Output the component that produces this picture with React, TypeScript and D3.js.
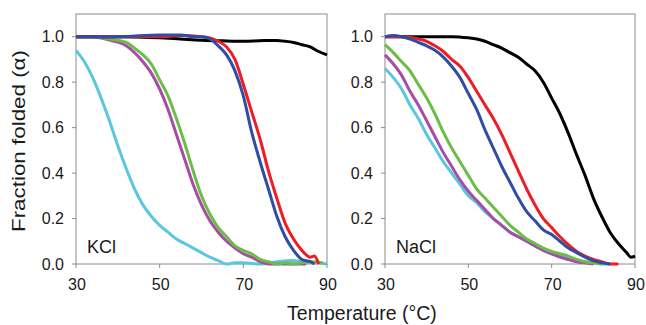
import React from 'react';
import * as d3 from 'd3';

// [temperature, fraction folded]
type Pt = [number, number];

const kclBlack: Pt[] = [[30,1.0],[40,1.0],[50,0.995],[55,0.99],[60,0.985],[65,0.982],[70,0.98],[75,0.983],[78,0.983],[80,0.98],[82,0.975],[84,0.965],[86,0.955],[88,0.935],[90,0.92]];
const kclRed: Pt[] = [[30,1.0],[40,1.0],[50,1.0],[55,1.005],[60,1.0],[62,0.995],[64,0.98],[66,0.955],[68,0.9],[70,0.79],[72,0.67],[74,0.55],[76,0.41],[78,0.29],[80,0.18],[82,0.11],[84,0.06],[86,0.03],[87,0.035],[88,0.0]];
const kclBlue: Pt[] = [[30,1.0],[40,1.0],[50,1.008],[55,1.008],[58,1.0],[60,1.0],[62,0.99],[64,0.96],[66,0.92],[68,0.85],[70,0.74],[72,0.58],[74,0.45],[76,0.33],[78,0.21],[80,0.12],[82,0.06],[84,0.02],[86,0.01],[87,0.0]];
const kclGreen: Pt[] = [[30,1.0],[34,1.0],[38,0.99],[42,0.975],[44,0.95],[46,0.92],[48,0.88],[50,0.81],[52,0.74],[54,0.64],[56,0.53],[58,0.41],[60,0.3],[62,0.22],[64,0.16],[66,0.12],[68,0.08],[70,0.06],[72,0.045],[74,0.02],[76,0.01],[78,0.0],[80,0.005],[82,0.0],[86,0.01],[89,0.005]];
const kclMagenta: Pt[] = [[30,1.0],[34,1.0],[38,0.985],[42,0.96],[44,0.93],[46,0.89],[48,0.84],[50,0.77],[52,0.68],[54,0.57],[56,0.46],[58,0.35],[60,0.26],[62,0.19],[64,0.14],[66,0.1],[68,0.07],[70,0.045],[72,0.03],[74,0.01],[76,0.0],[80,0.0],[85,0.0]];
const kclCyan: Pt[] = [[30,0.94],[32,0.89],[34,0.82],[36,0.73],[38,0.63],[40,0.52],[42,0.42],[44,0.33],[46,0.26],[48,0.21],[50,0.17],[52,0.14],[54,0.11],[56,0.09],[58,0.07],[60,0.05],[62,0.03],[64,0.015],[66,0.0],[68,0.005],[70,0.005],[74,0.0],[78,0.01],[82,0.015],[84,0.01],[88,0.005],[90,0.0]];

const naclBlack: Pt[] = [[30,1.0],[40,1.0],[46,1.0],[50,0.995],[52,0.99],[54,0.98],[56,0.965],[58,0.95],[60,0.93],[62,0.91],[64,0.88],[66,0.85],[68,0.8],[70,0.73],[72,0.66],[74,0.575],[76,0.48],[78,0.39],[80,0.29],[82,0.21],[84,0.14],[86,0.09],[88,0.05],[89,0.03],[90,0.035]];
const naclRed: Pt[] = [[30,1.0],[34,1.0],[38,0.99],[40,0.98],[42,0.96],[44,0.935],[46,0.9],[48,0.87],[50,0.82],[52,0.76],[54,0.7],[56,0.64],[58,0.57],[60,0.49],[62,0.41],[64,0.33],[66,0.26],[68,0.2],[70,0.16],[72,0.12],[74,0.085],[76,0.055],[78,0.035],[80,0.02],[82,0.01],[84,0.0],[86,0.0]];
const naclBlue: Pt[] = [[30,1.0],[32,1.005],[34,1.0],[36,0.99],[38,0.975],[40,0.96],[42,0.94],[44,0.91],[46,0.87],[48,0.82],[50,0.75],[52,0.68],[54,0.59],[56,0.51],[58,0.43],[60,0.36],[62,0.29],[64,0.23],[66,0.19],[68,0.15],[70,0.13],[72,0.1],[74,0.07],[76,0.05],[78,0.03],[80,0.015],[82,0.005],[84,0.0]];
const naclGreen: Pt[] = [[30,0.965],[32,0.93],[34,0.89],[36,0.85],[38,0.79],[40,0.73],[42,0.66],[44,0.58],[46,0.51],[48,0.45],[50,0.39],[52,0.33],[54,0.29],[56,0.25],[58,0.21],[60,0.17],[62,0.14],[64,0.11],[66,0.09],[68,0.07],[70,0.055],[72,0.045],[74,0.035],[76,0.02],[78,0.01],[80,0.005],[82,0.0]];
const naclMagenta: Pt[] = [[30,0.92],[32,0.88],[34,0.83],[36,0.76],[38,0.7],[40,0.63],[42,0.56],[44,0.49],[46,0.43],[48,0.37],[50,0.32],[52,0.28],[54,0.24],[56,0.2],[58,0.17],[60,0.14],[62,0.12],[64,0.1],[66,0.08],[68,0.06],[70,0.045],[72,0.03],[74,0.02],[76,0.01],[78,0.005],[80,0.0]];
const naclCyan: Pt[] = [[30,0.86],[32,0.82],[34,0.77],[36,0.7],[38,0.64],[40,0.57],[42,0.51],[44,0.45],[46,0.4],[48,0.35],[50,0.3],[52,0.27],[54,0.23],[56,0.2],[58,0.17],[60,0.14],[62,0.12],[64,0.1],[66,0.08],[68,0.06],[70,0.045],[72,0.035],[74,0.025],[76,0.015],[78,0.01],[80,0.005],[82,0.0],[84,0.0]];

const xTicks = [30, 50, 70, 90];
const yTicks = [0, 0.2, 0.4, 0.6, 0.8, 1.0];

const colors = {
  black: '#000000',
  red: '#ee1c24',
  blue: '#2e4da3',
  green: '#6bbd45',
  magenta: '#a64ea5',
  cyan: '#5bc6df',
};

const panels = [
  {
    label: 'KCl', left: 76, right: 327,
    series: [
      { c: colors.cyan, d: kclCyan },
      { c: colors.magenta, d: kclMagenta },
      { c: colors.green, d: kclGreen },
      { c: colors.black, d: kclBlack },
      { c: colors.red, d: kclRed },
      { c: colors.blue, d: kclBlue },
    ],
  },
  {
    label: 'NaCl', left: 385, right: 635,
    series: [
      { c: colors.black, d: naclBlack },
      { c: colors.cyan, d: naclCyan },
      { c: colors.magenta, d: naclMagenta },
      { c: colors.green, d: naclGreen },
      { c: colors.red, d: naclRed },
      { c: colors.blue, d: naclBlue },
    ],
  },
];

const top = 14;
const bottom = 264;
const font = 'Arial, "Liberation Sans", sans-serif';

function Panel({ p }: { p: typeof panels[number] }) {
  const x = d3.scaleLinear().domain([30, 90]).range([p.left, p.right]);
  const y = d3.scaleLinear().domain([0, 1.1]).range([bottom, top]);
  const line = d3.line<Pt>().x(d => x(d[0])).y(d => y(d[1])).curve(d3.curveMonotoneX);
  return (
    <g>
      <rect x={p.left} y={top} width={p.right - p.left} height={bottom - top} fill="none" stroke="#8c8c8c" strokeWidth={1} />
      <defs>
        <clipPath id={'clip' + p.label}>
          <rect x={p.left - 2} y={top} width={p.right - p.left + 4} height={bottom - top + 2} />
        </clipPath>
      </defs>
      <g clipPath={`url(#clip${p.label})`}>
        {p.series.map((s, i) => (
          <path key={i} d={line(s.d) || ''} fill="none" stroke={s.c} strokeWidth={3} strokeLinejoin="round" />
        ))}
      </g>
      {yTicks.map(t => (
        <g key={t}>
          <line x1={p.left - 4} x2={p.left} y1={y(t)} y2={y(t)} stroke="#8c8c8c" />
          <text x={p.left - 12} y={y(t) + 5.5} textAnchor="end" fontSize={16} fontFamily={font} fill="#1a1a1a">{t.toFixed(1)}</text>
        </g>
      ))}
      {xTicks.map(t => (
        <g key={t}>
          <line x1={x(t)} x2={x(t)} y1={bottom} y2={bottom + 4} stroke="#8c8c8c" />
          <text x={x(t) + 1} y={290} textAnchor="middle" fontSize={16} fontFamily={font} fill="#1a1a1a">{t}</text>
        </g>
      ))}
      <text x={p.left + 11} y={253} fontSize={18} fontFamily={font} fill="#1a1a1a">{p.label}</text>
    </g>
  );
}

export default function App() {
  return (
    <svg width={646} height={325} style={{ position: 'absolute', left: 0, top: 0, background: '#fff' }}>
      {panels.map(p => <Panel key={p.label} p={p} />)}
      <text x={362} y={320} textAnchor="middle" fontSize={19.5} fontFamily={font} fill="#1a1a1a">Temperature (°C)</text>
      <text transform="translate(25,141) rotate(-90)" textAnchor="middle" fontSize={18} fontFamily={font} fill="#1a1a1a" textLength={182} lengthAdjust="spacingAndGlyphs">Fraction folded (α)</text>
    </svg>
  );
}
